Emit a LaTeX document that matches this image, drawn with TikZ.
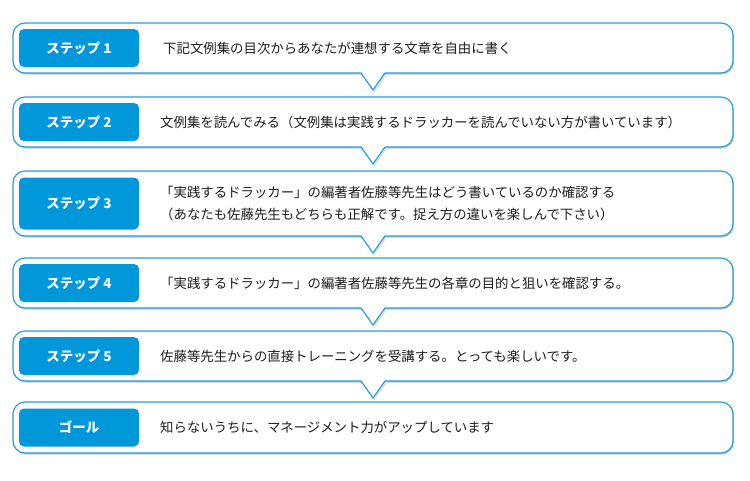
\documentclass[tikz,border=0pt]{standalone}
\usepackage{fontspec}
\usepackage{xcolor}
\usetikzlibrary{positioning, calc, shadows}
\newfontfamily\jpfont{Noto Sans CJK JP}
\definecolor{stepblue}{RGB}{0,152,218}
\definecolor{frameblue}{RGB}{38,158,218}
\definecolor{bodytext}{RGB}{30,30,30}

\tikzset{
  stepframe/.style={draw=frameblue, line width=1.2pt, fill=white, rounded corners=12pt,
    minimum width=720pt, minimum height=50pt, inner sep=0pt, outer sep=0pt,
    drop shadow={shadow xshift=1pt, shadow yshift=-1.5pt, fill=black, opacity=0.22}},
  steplabel/.style={fill=stepblue, rounded corners=5pt, minimum width=120pt,
    minimum height=38pt, inner sep=0pt, outer sep=0pt, text=white,
    font=\jpfont\bfseries\fontsize{13.5}{16}\selectfont},
  steptext/.style={anchor=west, inner sep=0pt, text=bodytext, align=left,
    font=\jpfont\fontsize{13.4}{21.5}\selectfont},
  pointer/.style={draw=frameblue, line width=1.2pt, line join=miter},
}

\begin{document}
\begin{tikzpicture}[x=1pt, y=-1pt]
  \useasboundingbox (0,0) rectangle (750,480);
  % 外枠
  \node [stepframe] (step1) at (373,48) {};
  \node [stepframe, below=24pt of step1] (step2) {};
  \node [stepframe, minimum height=65pt, below=24pt of step2] (step3) {};
  \node [stepframe, below=22pt of step3] (step4) {};
  \node [stepframe, below=23pt of step4] (step5) {};
  \node [stepframe, minimum height=51pt, below=21pt of step5] (goal) {};

  % 吹き出しの三角
  \foreach \s in {step1,step2,step3,step4,step5} {
    \fill [white] ($(\s.south)+(-12,-1)$) -- ($(\s.south)+(12,-1)$) -- ($(\s.south)+(0,17)$) -- cycle;
    \draw [black!15, line width=1.2pt] ($(\s.south)+(1,18.5)$) -- ($(\s.south)+(13,1.5)$);
    \draw [pointer] ($(\s.south)+(-12,0)$) -- ($(\s.south)+(0,17)$) -- ($(\s.south)+(12,0)$);
  }

  % ラベル
  \node [steplabel, right=6pt of step1.west] (lab1) {ステップ 1};
  \node [steplabel, right=6pt of step2.west] (lab2) {ステップ 2};
  \node [steplabel, minimum height=52pt, right=6pt of step3.west] (lab3) {ステップ 3};
  \node [steplabel, right=6pt of step4.west] (lab4) {ステップ 4};
  \node [steplabel, right=6pt of step5.west] (lab5) {ステップ 5};
  \node [steplabel, right=6pt of goal.west] (labgoal) {ゴール};

  % 本文
  \node [steptext, right=24pt of lab1] (txt1) {下記文例集の目次からあなたが連想する文章を自由に書く};
  \node [steptext, right=21pt of lab2] (txt2) {文例集を読んでみる（文例集は実践するドラッカーを読んでいない方が書いています）};
  \node [steptext, right=21pt of lab3] (txt3) {「実践するドラッカー」の編著者佐藤等先生はどう書いているのか確認する\\（あなたも佐藤先生もどちらも正解です。捉え方の違いを楽しんで下さい）};
  \node [steptext, right=21pt of lab4] (txt4) {「実践するドラッカー」の編著者佐藤等先生の各章の目的と狙いを確認する。};
  \node [steptext, right=21pt of lab5] (txt5) {佐藤等先生からの直接トレーニングを受講する。とっても楽しいです。};
  \node [steptext, right=21pt of labgoal] (txtgoal) {知らないうちに、マネージメント力がアップしています};
\end{tikzpicture}
\end{document}
